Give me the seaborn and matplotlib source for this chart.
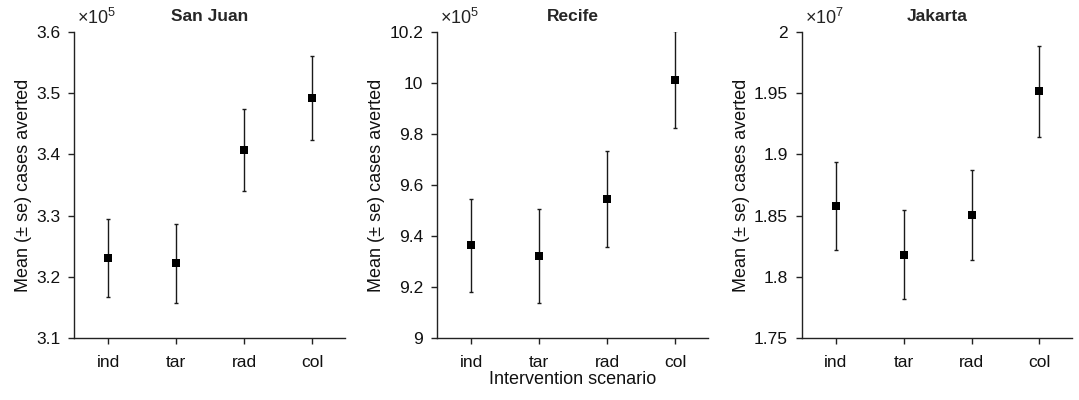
import matplotlib
matplotlib.use("Agg")
import matplotlib.pyplot as plt
import seaborn as sns
import pandas as pd
from matplotlib.ticker import FuncFormatter, MultipleLocator

# ---- data ----
scenarios = ["ind", "tar", "rad", "col"]
cities = ["San Juan", "Recife", "Jakarta"]

sanjuan_mean = [323100, 322200, 340700, 349200]
sanjuan_se = [6400, 6500, 6700, 6900]

recife_mean = [936300, 932200, 954400, 1001300]
recife_se = [18300, 18500, 18800, 19000]

jakarta_mean = [18578000, 18182000, 18502000, 19514000]
jakarta_se = [362000, 363000, 368000, 368000]

exponents = [5, 5, 7]
ylims = [(3.1e5, 3.6e5), (9.0e5, 10.2e5), (1.75e7, 2.0e7)]
ysteps = [0.1e5, 0.2e5, 0.05e7]

sns.set_theme(style="ticks")
plt.rcParams["font.family"] = ["Liberation Sans", "DejaVu Sans"]
plt.rcParams["mathtext.fontset"] = "custom"
plt.rcParams["mathtext.rm"] = "Liberation Sans"
plt.rcParams["mathtext.it"] = "Liberation Sans:italic"

fig = plt.figure(figsize=(10.79, 4.0), dpi=100)
lefts = [74, 437, 802]
widths = [271, 271, 270]
W, H = 1079, 400

means = [sanjuan_mean, recife_mean, jakarta_mean]
ses = [sanjuan_se, recife_se, jakarta_se]

for i in range(3):
    ax = fig.add_axes([lefts[i] / W, 1 - 338 / H, widths[i] / W, (338 - 32) / H])
    df = pd.DataFrame({"scenario": scenarios, "mean": means[i], "se": ses[i]})
    ax.errorbar(df["scenario"], df["mean"], yerr=df["se"], fmt="none",
                ecolor="#1a1a1a", elinewidth=1.0, capsize=1.6, capthick=1.0, zorder=2)
    sns.scatterplot(data=df, x="scenario", y="mean", marker="s", color="black",
                    s=40, edgecolor="black", linewidth=0, ax=ax, zorder=3)
    ax.set_xlim(-0.5, 3.48)
    ax.set_ylim(*ylims[i])
    ax.yaxis.set_major_locator(MultipleLocator(ysteps[i]))
    e = exponents[i]
    ax.yaxis.set_major_formatter(FuncFormatter(lambda v, p, e=e: "%g" % round(v / 10 ** e, 4)))
    ax.text(0.01, 1.012, r"$\times10^{%d}$" % e, transform=ax.transAxes,
            ha="left", va="bottom", fontsize=13, color="#222222")
    sns.despine(ax=ax)
    for s in ["left", "bottom"]:
        ax.spines[s].set_linewidth(1.0)
        ax.spines[s].set_color("#222222")
    ax.tick_params(axis="both", direction="out", length=4, width=1.0,
                   colors="#222222", labelsize=12.5, labelcolor="#111111")
    ax.tick_params(axis="y", pad=6)
    ax.tick_params(axis="x", pad=8)
    ax.set_ylabel("Mean (± se) cases averted", fontsize=13, color="#111111", labelpad=3)
    if i == 1:
        ax.set_xlabel("Intervention scenario", fontsize=13, color="#111111", labelpad=1)
    else:
        ax.set_xlabel("")
    ax.set_title(cities[i], fontsize=12.5, fontweight="bold", pad=8)

fig.savefig("out.png", dpi=100)
